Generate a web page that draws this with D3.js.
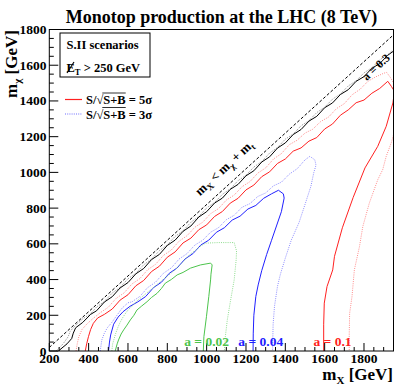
<!DOCTYPE html>
<html>
<head>
<meta charset="utf-8">
<script src="https://cdn.jsdelivr.net/npm/d3@7"></script>
<style>
body { margin: 0; background: #fff; }
text { font-family: "Liberation Serif", "Times New Roman", serif; font-weight: bold; }
</style>
</head>
<body>
<svg id="chart" width="407" height="387"></svg>
<script>
// axis ticks
var xMajor = [200, 400, 600, 800, 1000, 1200, 1400, 1600, 1800];
var yMajor = [0, 200, 400, 600, 800, 1000, 1200, 1400, 1600, 1800];

// kinematic limit m_chi = m_X - m_t (dashed)
var kinLimit = [[200, 20], [1950, 1770]];

// a = 0.3 : 5 sigma (solid) and 3 sigma (dotted)
var a03_5s = [[246,0],[290,40],[314,70],[322,100],[334,130],[370,160],[410,205],[440,225],[480,274],[520,304],[560,353],[600,383],[640,432],[680,462],[720,512],[760,541],[800,591],[840,621],[880,670],[920,700],[960,750],[1000,780],[1040,828],[1080,856],[1120,905],[1160,933],[1200,981],[1240,1009],[1280,1058],[1320,1087],[1360,1136],[1400,1165],[1440,1212],[1480,1240],[1520,1287],[1560,1314],[1600,1362],[1640,1389],[1680,1436],[1720,1463],[1760,1510],[1800,1536],[1840,1583],[1880,1609],[1920,1655],[1960,1687]];
var a03_3s = [[234,0],[270,40],[296,80],[306,110],[330,140],[370,180],[410,208],[440,246],[480,277],[520,325],[560,356],[600,404],[640,435],[680,483],[720,515],[760,562],[800,594],[840,642],[880,673],[920,721],[960,753],[1000,801],[1040,831],[1080,877],[1120,908],[1160,954],[1200,984],[1240,1030],[1280,1061],[1320,1108],[1360,1139],[1400,1186],[1440,1215],[1480,1261],[1520,1290],[1560,1335],[1600,1365],[1640,1410],[1680,1439],[1720,1484],[1760,1513],[1800,1557],[1840,1586],[1880,1630],[1920,1658],[1960,1699]];

// a = 0.1
var a01_5s = [[383,0],[390,40],[399,80],[410,120],[424,155],[446,185],[480,205],[520,235],[560,285],[600,315],[640,365],[680,395],[720,445],[760,475],[800,525],[840,555],[880,605],[920,632],[960,679],[1000,706],[1040,753],[1080,781],[1120,828],[1160,855],[1200,902],[1240,929],[1280,976],[1320,1003],[1360,1050],[1400,1075],[1440,1119],[1480,1137],[1520,1175],[1560,1195],[1600,1243],[1640,1271],[1680,1320],[1720,1350],[1760,1390],[1800,1405],[1840,1443],[1880,1470],[1921,1510],[1940,1480],[1955,1454],[1947,1389],[1913,1258],[1870,1146],[1805,1025],[1745,860],[1690,690],[1650,530],[1641,454],[1612,361],[1598,268],[1595,150],[1595,0]];
var a01_3s = [[336,0],[342,40],[350,80],[366,120],[390,150],[420,180],[460,215],[500,245],[540,295],[580,325],[620,375],[660,405],[700,455],[740,485],[780,535],[820,565],[860,615],[900,645],[940,693],[980,721],[1020,769],[1060,797],[1100,845],[1140,873],[1180,920],[1220,948],[1260,996],[1300,1025],[1340,1075],[1380,1105],[1420,1155],[1460,1180],[1500,1220],[1540,1242],[1580,1285],[1620,1310],[1660,1357],[1700,1385],[1740,1435],[1780,1465],[1820,1510],[1860,1535],[1900,1555],[1915,1560],[1935,1530],[1955,1492],[1960,1400],[1960,1250],[1940,1170],[1913,1090],[1895,1015],[1870,959],[1827,828],[1794,697],[1777,585],[1751,454],[1739,305],[1727,211],[1725,100],[1725,0]];

// a = 0.04
var a004_5s = [[501,0],[506,50],[512,90],[527,150],[550,190],[575,220],[610,250],[650,275],[690,305],[730,355],[770,385],[810,435],[850,465],[890,515],[930,545],[970,593],[1010,620],[1050,665],[1090,690],[1130,733],[1170,755],[1210,795],[1250,815],[1290,855],[1330,880],[1365,900],[1390,880],[1394,856],[1380,780],[1355,700],[1330,620],[1305,540],[1280,450],[1262,370],[1250,305],[1240,200],[1237,100],[1236,0]];
var a004_3s = [[459,0],[467,62],[480,100],[495,130],[518,160],[544,200],[570,240],[600,270],[620,275],[660,305],[700,355],[740,385],[780,435],[820,465],[860,515],[900,545],[940,593],[980,620],[1020,665],[1060,690],[1100,735],[1140,760],[1180,805],[1220,825],[1260,865],[1300,885],[1340,925],[1380,945],[1420,990],[1460,1020],[1500,1070],[1525,1090],[1550,1070],[1556,1040],[1545,1000],[1530,922],[1500,820],[1470,720],[1430,620],[1400,520],[1375,430],[1360,361],[1345,250],[1338,150],[1335,0]];

// a = 0.02
var a002_5s = [[535,0],[545,40],[552,62],[565,95],[578,118],[595,145],[612,174],[630,200],[646,230],[670,252],[697,276],[720,300],[748,323],[770,350],[790,380],[820,400],[850,426],[880,440],[918,464],[969,482],[1020,492],[1028,482],[1022,430],[1020,398],[1011,305],[999,192],[986,80],[983,0]];
var a002_3s = [[518,0],[522,40],[528,62],[538,100],[548,130],[560,160],[575,190],[590,215],[605,235],[625,255],[640,275],[665,298],[690,320],[715,342],[740,365],[765,388],[790,410],[815,432],[840,455],[860,478],[880,500],[900,525],[920,545],[945,565],[970,588],[995,604],[1060,607],[1140,607],[1152,560],[1150,510],[1140,398],[1122,286],[1105,174],[1095,80],[1090,0]];

var W = 407, H = 387;
var plotL = 49.3, plotR = 393.5, plotT = 29.5, plotB = 351;

var svg = d3.select("#chart");
svg.append("rect").attr("width", W).attr("height", H).attr("fill", "#fff");

var x = d3.scaleLinear().domain([200, 1950]).range([plotL, plotR]);
var y = d3.scaleLinear().domain([0, 1800]).range([plotB, plotT]);

svg.append("clipPath").attr("id", "plotclip")
    .append("rect")
    .attr("x", plotL).attr("y", plotT)
    .attr("width", plotR - plotL).attr("height", plotB - plotT);

var plot = svg.append("g").attr("clip-path", "url(#plotclip)");
var line = d3.line().x(function(d){ return x(d[0]); }).y(function(d){ return y(d[1]); });

var curves = [
    {pts: kinLimit, color: "#000", dash: "3,2"},
    {pts: a03_3s, color: "#8c8c8c", dash: "1,1.2"},
    {pts: a03_5s, color: "#000", dash: null},
    {pts: a01_3s, color: "#ff8c8c", dash: "1,1.2"},
    {pts: a01_5s, color: "#ff2020", dash: null},
    {pts: a004_3s, color: "#8c8cff", dash: "1,1.2"},
    {pts: a004_5s, color: "#2020ff", dash: null},
    {pts: a002_3s, color: "#8fdc8f", dash: "1,1.2"},
    {pts: a002_5s, color: "#4cc44c", dash: null}
];

plot.selectAll("path.contour").data(curves).enter().append("path")
    .attr("class", "contour")
    .attr("d", function(d){ return line(d.pts); })
    .attr("fill", "none")
    .attr("stroke", function(d){ return d.color; })
    .attr("stroke-width", 1)
    .attr("stroke-dasharray", function(d){ return d.dash; });

// frame
svg.append("rect")
    .attr("x", plotL).attr("y", plotT)
    .attr("width", plotR - plotL).attr("height", plotB - plotT)
    .attr("fill", "none").attr("stroke", "#000").attr("stroke-width", 1);

// ticks, ROOT style (inside)
var xMinor = d3.range(200, 1951, 50);
var yMinor = d3.range(0, 1801, 50);
var ticks = svg.append("g").attr("stroke", "#000").attr("stroke-width", 1);
ticks.selectAll("line.xt").data(xMinor).enter().append("line")
    .attr("x1", function(d){ return x(d); }).attr("x2", function(d){ return x(d); })
    .attr("y1", plotB)
    .attr("y2", function(d){ return plotB - (d % 200 === 0 ? 8 : 4); });
ticks.selectAll("line.yt").data(yMinor).enter().append("line")
    .attr("y1", function(d){ return y(d); }).attr("y2", function(d){ return y(d); })
    .attr("x1", plotL)
    .attr("x2", function(d){ return plotL + (d % 200 === 0 ? 9 : 4.5); });

svg.selectAll("text.xl").data(xMajor).enter().append("text")
    .attr("x", function(d){ return x(d); }).attr("y", 363)
    .attr("text-anchor", "middle").attr("font-size", 13.5)
    .text(function(d){ return d; });
svg.selectAll("text.yl").data(yMajor).enter().append("text")
    .attr("x", 46.5).attr("y", function(d){ return y(d) + 4.5; })
    .attr("text-anchor", "end").attr("font-size", 13.5)
    .text(function(d){ return d; });

// axis titles
var xt = svg.append("text").attr("x", 393).attr("y", 380)
    .attr("text-anchor", "end").attr("font-size", 17);
xt.append("tspan").text("m");
xt.append("tspan").attr("font-size", 11).attr("dy", 3.5).text("X");
xt.append("tspan").attr("dy", -3.5).text(" [GeV]");

var yt = svg.append("text").attr("transform", "translate(17,30) rotate(-90)")
    .attr("text-anchor", "end").attr("font-size", 17);
yt.append("tspan").text("m");
yt.append("tspan").attr("font-size", 11).attr("dy", 4).text("\u03c7");
yt.append("tspan").attr("dy", -4).text(" [GeV]");

// title
svg.append("text").attr("x", 221.5).attr("y", 23)
    .attr("text-anchor", "middle").attr("font-size", 18)
    .text("Monotop production at the LHC (8 TeV)");

// info box
svg.append("rect").attr("x", 60).attr("y", 33).attr("width", 90).attr("height", 44)
    .attr("fill", "#fff").attr("stroke", "#000").attr("stroke-width", 1);
svg.append("text").attr("x", 66.5).attr("y", 49).attr("font-size", 12.5).text("S.II scenarios");
var met = svg.append("text").attr("x", 66.5).attr("y", 72).attr("font-size", 12.5);
met.append("tspan").text("E");
met.append("tspan").attr("font-size", 8.5).attr("dy", 3).text("T");
met.append("tspan").attr("dy", -3).text(" > 250 GeV");
svg.append("line").attr("x1", 67).attr("y1", 73).attr("x2", 74).attr("y2", 62)
    .attr("stroke", "#000").attr("stroke-width", 1.2);

// legend
var legend = [
    {color: "#ff2020", dash: null, n: "5"},
    {color: "#6f6fff", dash: "1,1.2", n: "3"}
];
legend.forEach(function(l, i){
    var ly = 99.5 + i * 14.5;
    svg.append("line").attr("x1", 65).attr("x2", 82).attr("y1", ly).attr("y2", ly)
        .attr("stroke", l.color).attr("stroke-width", 1.2)
        .attr("stroke-dasharray", l.dash);
    var t = svg.append("text").attr("x", 86).attr("y", ly + 4.5).attr("font-size", 12.5);
    t.append("tspan").text("S/\u221a");
    t.append("tspan").text("S+B");
    t.append("tspan").text(" = " + l.n + "\u03c3");
    // overline of the square root
    var x0 = 86 + t.node().getSubStringLength(0, 3);
    var x1 = 86 + t.node().getSubStringLength(0, 6);
    svg.append("line").attr("x1", x0 - 1).attr("x2", x1)
        .attr("y1", ly - 6.5).attr("y2", ly - 6.5)
        .attr("stroke", "#000").attr("stroke-width", 0.8);
});

// contour labels
var labels = [
    {t: "a = 0.02", x: 1000, c: "#4cc44c"},
    {t: "a = 0.04", x: 1275, c: "#2020ff"},
    {t: "a = 0.1", x: 1640, c: "#ff2020"}
];
svg.selectAll("text.al").data(labels).enter().append("text")
    .attr("x", function(d){ return x(d.x); }).attr("y", 346)
    .attr("text-anchor", "middle").attr("font-size", 13.5)
    .attr("fill", function(d){ return d.c; })
    .text(function(d){ return d.t; });

svg.append("text").attr("transform", "translate(376,67) rotate(-43)")
    .attr("text-anchor", "middle").attr("font-size", 11.5)
    .attr("dy", 4).text("a = 0.3");

var kin = svg.append("text").attr("transform", "translate(227,171) rotate(-43)")
    .attr("text-anchor", "middle").attr("font-size", 13);
kin.append("tspan").text("m");
kin.append("tspan").attr("font-size", 9).attr("dy", 3).text("X");
kin.append("tspan").attr("dy", -3).text(" < m");
kin.append("tspan").attr("font-size", 9).attr("dy", 3).text("\u03c7");
kin.append("tspan").attr("dy", -3).text(" + m");
kin.append("tspan").attr("font-size", 9).attr("dy", 3).text("t");
</script>
</body>
</html>
